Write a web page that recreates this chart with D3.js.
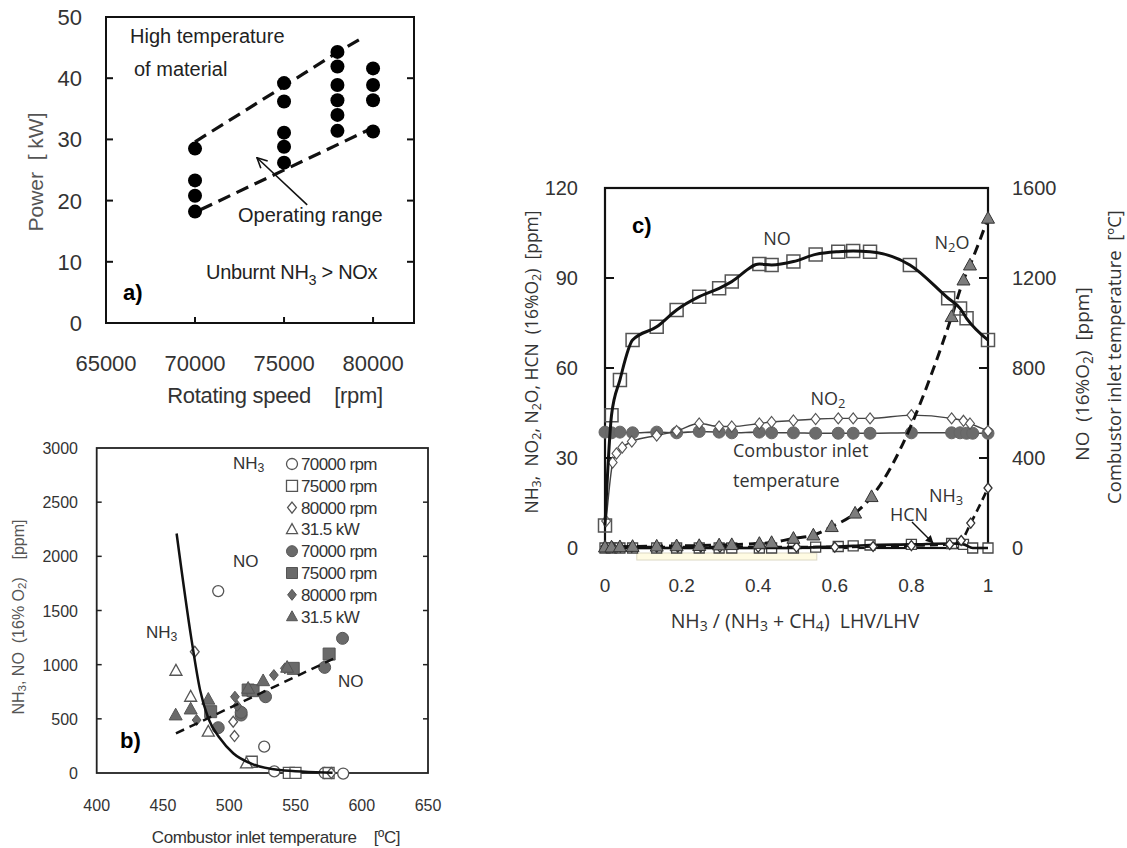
<!DOCTYPE html>
<html><head><meta charset="utf-8">
<script src="https://cdn.jsdelivr.net/npm/d3@7"></script>
<style>body{margin:0;background:#fff}svg{display:block}text{white-space:pre}</style>
</head><body><svg id="chart" width="1127" height="848"></svg>
<script>
// ---------------- Panel a data ----------------
const aSpeeds = [70000, 75000, 78000, 80000];
const aPowers = [[28.5, 23.3, 20.8, 18.2], [39.2, 36.2, 31.1, 28.8, 26.2], [44.3, 41.9, 38.9, 36.4, 34.0, 31.4], [41.6, 38.9, 36.4, 31.3]];
const aUpperRpm = [70000, 75000, 78000, 79400];
const aUpperKW = [29.6, 38.7, 44.2, 46.6];
const aLowerRpm = [70300, 80000];
const aLowerKW = [18.5, 31.9];
const aYTicks = [0, 10, 20, 30, 40, 50];
const aXTicks = [65000, 70000, 75000, 80000];

// ---------------- Panel b data ----------------
const bLegendLabels = ["70000 rpm", "75000 rpm", "80000 rpm", "31.5 kW", "70000 rpm", "75000 rpm", "80000 rpm", "31.5 kW"];
const bNH3_70 = [[491.7, 1679], [526.4, 243], [534, 15], [572, 0], [586, -5]];
const bNH3_75 = [[517, 104], [545, 2], [550, 2], [575, 0]];
const bNH3_80 = [[474, 1119], [503, 473], [504, 341], [577, 0]];
const bNH3_315 = [[459.8, 944], [470.9, 704], [484.2, 381], [513, 89]];
const bNO_70 = [[491.7, 418], [509, 535], [509, 560], [527.4, 704], [572, 975], [585.5, 1243]];
const bNO_75 = [[486, 566], [514.3, 766], [518, 760], [548.3, 966], [575.4, 1098]];
const bNO_80 = [[475.4, 489], [504.3, 704], [506, 620], [533.7, 904], [542, 966]];
const bNO_315 = [[459.6, 535], [470.9, 590], [484.2, 680], [514.3, 781], [525.6, 851], [543.7, 975]];
const bNH3CurveT = [460.3, 471.6, 478, 484.2, 493, 503, 518, 538, 578];
const bNH3CurveV = [2211, 1227, 766, 505, 320, 182, 80, 28, 3];
const bNOLineT = [459.8, 579.2];
const bNOLineV = [366, 1058];
const bYTicks = [0, 500, 1000, 1500, 2000, 2500, 3000];
const bXTicks = [400, 450, 500, 550, 600, 650];

// ---------------- Panel c data ----------------
const cNOx = [0, 0.017, 0.039, 0.072, 0.135, 0.187, 0.246, 0.298, 0.331, 0.403, 0.435, 0.492, 0.55, 0.609, 0.648, 0.692, 0.796, 0.896, 0.927, 0.944, 1.0];
const cNO = [100, 590, 747, 924, 983, 1058, 1117, 1154, 1184, 1262, 1258, 1273, 1305, 1317, 1320, 1317, 1258, 1110, 1065, 1021, 924];
const cN2Ox = [0, 0.017, 0.039, 0.072, 0.135, 0.187, 0.246, 0.298, 0.331, 0.403, 0.435, 0.492, 0.544, 0.592, 0.653, 0.696, 0.905, 0.936, 0.953, 1.0];
const cN2O = [0.3, 0.3, 0.4, 0.5, 0.6, 0.7, 0.8, 1.0, 1.1, 1.5, 1.8, 3.2, 4.3, 7.1, 11.6, 17.1, 77.1, 89.3, 94.3, 109.9];
const cNO2x = [0.003, 0.02, 0.03, 0.045, 0.07, 0.135, 0.187, 0.246, 0.298, 0.331, 0.403, 0.435, 0.492, 0.55, 0.609, 0.648, 0.692, 0.8, 0.905, 0.936, 0.953, 1.0];
const cNO2 = [9, 28.5, 31.5, 33.5, 35.5, 37.5, 39, 41.5, 40.5, 40.5, 41.5, 42, 42.5, 43, 43.2, 43.2, 43.2, 44.3, 43.2, 42.4, 41.5, 39];
const cTempx = [0, 0.017, 0.039, 0.072, 0.135, 0.187, 0.246, 0.298, 0.331, 0.403, 0.435, 0.492, 0.55, 0.609, 0.648, 0.692, 0.8, 0.905, 0.927, 0.944, 0.96, 1.0];
const cTemp = [515, 512, 515, 512, 515, 512, 518, 515, 512, 515, 512, 512, 510, 510, 510, 510, 512, 512, 512, 510, 510, 510];
const cNH3x = [0, 0.02, 0.04, 0.07, 0.135, 0.19, 0.25, 0.3, 0.4, 0.5, 0.6, 0.7, 0.8, 0.9, 0.93, 0.955, 1.0];
const cNH3 = [0.5, 0.3, 0.3, 0.3, 0.3, 0.3, 0.3, 0.3, 0.3, 0.3, 0.3, 0.5, 0.8, 1.2, 2.5, 8.3, 20];
const cHCNx = [0, 0.017, 0.039, 0.072, 0.135, 0.187, 0.246, 0.298, 0.331, 0.403, 0.435, 0.492, 0.55, 0.609, 0.648, 0.692, 0.8, 0.905, 0.936, 0.96, 1.0];
const cHCN = [0, 0, 0, 0, 0, 0, 0, 0, 0, 0, 0, 0, 0.3, 0.5, 0.7, 1, 1.2, 1.5, 1.2, 0, 0];
const cYLTicks = [0, 30, 60, 90, 120];
const cYRTicks = [0, 400, 800, 1200, 1600];
const cXTicks = [0, 0.2, 0.4, 0.6, 0.8, 1];
const cXTickLabels = ["0", "0.2", "0.4", "0.6", "0.8", "1"];

// ---------------- helpers ----------------
const svg = d3.select("#chart");
svg.append("rect").attr("width", 1127).attr("height", 848).attr("fill", "#fff");
const ARIAL = "'Liberation Sans', Arial, Helvetica, sans-serif";
const SANS2 = "'Open Sans', 'Noto Sans', sans-serif";

function rich(parent, x, y, str, o = {}) {
  const fs = o.size || 16;
  const t = parent.append("text").attr("x", x).attr("y", y)
    .attr("font-size", fs).attr("font-family", o.family || ARIAL)
    .attr("fill", o.fill || "#222").attr("text-anchor", o.anchor || "start")
    .attr("font-weight", o.weight || "normal").attr("xml:space", "preserve");
  if (o.baseline) t.attr("dominant-baseline", o.baseline);
  if (o.transform) t.attr("transform", o.transform);
  if (o.ls !== undefined) t.attr("letter-spacing", o.ls);
  const parts = str.split(/(_.)/);
  let sub = false;
  parts.forEach(p => {
    if (!p) return;
    if (p[0] === '_' && p.length === 2) {
      t.append("tspan").attr("dy", fs * 0.28).attr("font-size", fs * 0.72).text(p[1]);
      sub = true;
    } else {
      const ts = t.append("tspan").text(p);
      if (sub) { ts.attr("dy", -fs * 0.28); sub = false; }
    }
  });
  return t;
}
function symPath(type, r) {
  if (type === "circle") return d3.symbol(d3.symbolCircle, Math.PI * r * r)();
  if (type === "square") return `M${-r},${-r}h${2 * r}v${2 * r}h${-2 * r}Z`;
  if (type === "diamond") return `M0,${-r}L${r * 0.8},0L0,${r}L${-r * 0.8},0Z`;
  if (type === "triangle") return `M0,${-r * 1.05}L${r},${r * 0.75}L${-r},${r * 0.75}Z`;
}
const defs = svg.append("defs");
defs.append("marker").attr("id", "openArrow").attr("viewBox", "0 0 12 12").attr("refX", 11).attr("refY", 6)
  .attr("markerWidth", 12).attr("markerHeight", 12).attr("markerUnits", "userSpaceOnUse").attr("orient", "auto")
  .append("path").attr("d", "M1,1 L11,6 L1,11").attr("fill", "none").attr("stroke", "#111").attr("stroke-width", 1.6);
defs.append("marker").attr("id", "smallArrow").attr("viewBox", "0 0 10 10").attr("refX", 9).attr("refY", 5)
  .attr("markerWidth", 8).attr("markerHeight", 8).attr("markerUnits", "userSpaceOnUse").attr("orient", "auto")
  .append("path").attr("d", "M0,0 L10,5 L0,10 Z").attr("fill", "#111");

// ================= Panel a =================
{
  const g = svg.append("g");
  const x = d3.scaleLinear().domain([65000, 82300]).range([106, 414]);
  const y = d3.scaleLinear().domain([0, 50]).range([323, 17]);
  g.append("rect").attr("x", x.range()[0]).attr("y", y(50)).attr("width", x.range()[1] - x.range()[0])
    .attr("height", y(0) - y(50)).attr("fill", "none").attr("stroke", "#111").attr("stroke-width", 2);
  aYTicks.filter(v => v > 0 && v < 50).forEach(v => {
    g.append("line").attr("x1", x(65000)).attr("x2", x(65000) + 7).attr("y1", y(v)).attr("y2", y(v)).attr("stroke", "#111").attr("stroke-width", 2);
    g.append("line").attr("x1", x.range()[1]).attr("x2", x.range()[1] - 7).attr("y1", y(v)).attr("y2", y(v)).attr("stroke", "#111").attr("stroke-width", 2);
  });
  aXTicks.filter(v => v > 65000).forEach(v => {
    g.append("line").attr("x1", x(v)).attr("x2", x(v)).attr("y1", y(0)).attr("y2", y(0) - 6).attr("stroke", "#111").attr("stroke-width", 2);
  });
  aYTicks.forEach(v => rich(g, 82, y(v), String(v), { size: 22, anchor: "end", baseline: "central", fill: "#333" }));
  aXTicks.forEach(v => rich(g, x(v), 363, String(v), { size: 22, anchor: "middle", baseline: "central", fill: "#333" }));
  rich(g, 0, 0, "Power  [ kW]", { size: 21, anchor: "middle", baseline: "central", fill: "#555", transform: "translate(35,172) rotate(-90)" });
  rich(g, 275, 395, "Rotating speed    [rpm]", { size: 22, anchor: "middle", baseline: "central", fill: "#333", ls: -0.3 });
  const lineA = d3.line().x(d => x(d[0])).y(d => y(d[1])).curve(d3.curveMonotoneX);
  g.append("path").attr("d", lineA(aUpperRpm.map((r, i) => [r, aUpperKW[i]]))).attr("fill", "none")
    .attr("stroke", "#111").attr("stroke-width", 3.2).attr("stroke-dasharray", "13,7");
  g.append("path").attr("d", lineA(aLowerRpm.map((r, i) => [r, aLowerKW[i]]))).attr("fill", "none")
    .attr("stroke", "#111").attr("stroke-width", 3.2).attr("stroke-dasharray", "13,7");
  aSpeeds.forEach((s, i) => aPowers[i].forEach(p => {
    g.append("circle").attr("cx", x(s)).attr("cy", y(p)).attr("r", 7).attr("fill", "#000");
  }));
  rich(g, 130, 43, "High temperature", { size: 20, fill: "#222" });
  rich(g, 134, 76, "of material", { size: 20, fill: "#222" });
  rich(g, 238, 222, "Operating range", { size: 20, fill: "#222" });
  rich(g, 206, 279, "Unburnt NH_3 > NOx", { size: 20, fill: "#222", ls: -0.3 });
  rich(g, 123, 300, "a)", { size: 22, weight: "bold", fill: "#000" });
  g.append("line").attr("x1", x(76300)).attr("y1", y(19.3)).attr("x2", x(73480)).attr("y2", y(27.0))
    .attr("stroke", "#111").attr("stroke-width", 1.6).attr("marker-end", "url(#openArrow)");
}

// ================= Panel b =================
{
  const g = svg.append("g");
  const x = d3.scaleLinear().domain([400, 650]).range([96.7, 428]);
  const y = d3.scaleLinear().domain([0, 3000]).range([773, 448]);
  g.append("rect").attr("x", x(400)).attr("y", y(3000)).attr("width", x(650) - x(400)).attr("height", y(0) - y(3000))
    .attr("fill", "none").attr("stroke", "#222").attr("stroke-width", 1.8);
  bYTicks.filter(v => v > 0 && v < 3000).forEach(v => {
    g.append("line").attr("x1", x(650)).attr("x2", x(650) - 5).attr("y1", y(v)).attr("y2", y(v)).attr("stroke", "#222").attr("stroke-width", 1.5);
    g.append("line").attr("x1", x(400)).attr("x2", x(400) + 5).attr("y1", y(v)).attr("y2", y(v)).attr("stroke", "#222").attr("stroke-width", 1.5);
  });
  bYTicks.forEach(v => rich(g, 78, y(v), String(v), { size: 16, anchor: "end", baseline: "central", fill: "#333" }));
  bXTicks.forEach(v => rich(g, x(v), 805, String(v), { size: 16, anchor: "middle", baseline: "central", fill: "#333" }));
  rich(g, 276, 837, "Combustor inlet temperature    [ºC]", { size: 17, anchor: "middle", baseline: "central", fill: "#333", ls: -0.4 });
  rich(g, 0, 0, "NH_3, NO  (16% O_2)    [ppm]", { size: 16, anchor: "middle", baseline: "central", fill: "#555", transform: "translate(18,617) rotate(-90)" });

  const openSt = "#555", fillC = "#6a6a6a";
  const drawPts = (pts, type, r, filled) => pts.forEach(p => {
    g.append("path").attr("d", symPath(type, r)).attr("transform", `translate(${x(p[0])},${y(p[1])})`)
      .attr("fill", filled ? fillC : "#fff").attr("stroke", filled ? "#555" : openSt).attr("stroke-width", filled ? 1 : 1.3);
  });
  const lineB = d3.line().x(d => x(d[0])).y(d => y(d[1]));
  drawPts(bNH3_70, "circle", 5.5, false);
  drawPts(bNH3_75, "square", 5.5, false);
  drawPts(bNH3_80, "diamond", 5.5, false);
  drawPts(bNH3_315, "triangle", 6, false);
  drawPts(bNO_70, "circle", 6, true);
  drawPts(bNO_75, "square", 6, true);
  drawPts(bNO_80, "diamond", 5.5, true);
  drawPts(bNO_315, "triangle", 6.5, true);
  g.append("path").attr("d", lineB.curve(d3.curveMonotoneX)(bNH3CurveT.map((t, i) => [t, bNH3CurveV[i]])))
    .attr("fill", "none").attr("stroke", "#111").attr("stroke-width", 2.5);
  g.append("path").attr("d", d3.line().x(d => x(d[0])).y(d => y(d[1]))(bNOLineT.map((t, i) => [t, bNOLineV[i]])))
    .attr("fill", "none").attr("stroke", "#111").attr("stroke-width", 2.5).attr("stroke-dasharray", "9,6");
  const types = ["circle", "square", "diamond", "triangle"];
  bLegendLabels.forEach((lab, i) => {
    const cy = 464 + i * 21.8;
    const filled = i >= 4;
    g.append("path").attr("d", symPath(types[i % 4], 5.5)).attr("transform", `translate(292,${cy})`)
      .attr("fill", filled ? fillC : "#fff").attr("stroke", "#555").attr("stroke-width", filled ? 1 : 1.3);
    rich(g, 301, cy, lab, { size: 17, baseline: "central", fill: "#333", ls: -0.6 });
  });
  rich(g, 233, 463, "NH_3", { size: 17, baseline: "central", fill: "#333" });
  rich(g, 233, 561, "NO", { size: 17, baseline: "central", fill: "#333" });
  rich(g, 146, 632, "NH_3", { size: 17, baseline: "central", fill: "#333" });
  rich(g, 338, 681, "NO", { size: 17, baseline: "central", fill: "#333" });
  rich(g, 120, 740, "b)", { size: 22, weight: "bold", baseline: "central", fill: "#000" });
}

// ================= Panel c =================
{
  const g = svg.append("g");
  const x = d3.scaleLinear().domain([0, 1]).range([605, 988]);
  const yL = d3.scaleLinear().domain([0, 120]).range([548, 188]);
  const yR = d3.scaleLinear().domain([0, 1600]).range([548, 188]);
  g.append("rect").attr("x", x(0)).attr("y", yL(120)).attr("width", x(1) - x(0)).attr("height", yL(0) - yL(120))
    .attr("fill", "none").attr("stroke", "#111").attr("stroke-width", 2.2);
  g.append("rect").attr("x", x(0.083)).attr("y", 553).attr("width", x(0.553) - x(0.083)).attr("height", 7)
    .attr("fill", "#fffbe3").attr("stroke", "#dcd8c4").attr("stroke-width", 1);
  cYLTicks.filter(v => v > 0 && v < 120).forEach(v => g.append("line").attr("x1", x(0)).attr("x2", x(0) + 9)
    .attr("y1", yL(v)).attr("y2", yL(v)).attr("stroke", "#111").attr("stroke-width", 2));
  cYRTicks.filter(v => v > 0 && v < 1600).forEach(v => g.append("line").attr("x1", x(1)).attr("x2", x(1) - 9)
    .attr("y1", yR(v)).attr("y2", yR(v)).attr("stroke", "#111").attr("stroke-width", 2));
  cYLTicks.forEach(v => rich(g, 578, yL(v), String(v), { size: 20, anchor: "end", baseline: "central", fill: "#333" }));
  cYRTicks.forEach(v => rich(g, 1012, yR(v), String(v), { size: 20, baseline: "central", fill: "#333" }));
  cXTicks.forEach((v, i) => rich(g, x(v), 585, cXTickLabels[i], { size: 19, anchor: "middle", baseline: "central", fill: "#333" }));
  rich(g, 795, 620, "NH_3 / (NH_3 + CH_4)  LHV/LHV", { size: 19.5, anchor: "middle", baseline: "central", fill: "#333", family: SANS2 });
  rich(g, 0, 0, "NH_3,  NO_2, N_2O, HCN  (16%O_2)  [ppm]", { size: 17.5, anchor: "middle", baseline: "central", fill: "#333", family: SANS2, transform: "translate(531,362) rotate(-90)" });
  rich(g, 0, 0, "NO  (16%O_2)  [ppm]", { size: 19, anchor: "middle", baseline: "central", fill: "#333", family: SANS2, transform: "translate(1082,374) rotate(-90)" });
  rich(g, 0, 0, "Combustor inlet temperature  [ºC]", { size: 18.5, anchor: "middle", baseline: "central", fill: "#333", family: SANS2, transform: "translate(1113,357) rotate(-90)" });

  const mk = (xs, ys) => xs.map((v, i) => [v, ys[i]]);
  const lineL = d3.line().x(d => x(d[0])).y(d => yL(d[1])).curve(d3.curveMonotoneX);
  const lineR = d3.line().x(d => x(d[0])).y(d => yR(d[1])).curve(d3.curveMonotoneX);
  const pts = (data, sc, type, r, fill, stroke, sw) => data.forEach(p => g.append("path").attr("d", symPath(type, r))
    .attr("transform", `translate(${x(p[0])},${sc(p[1])})`).attr("fill", fill).attr("stroke", stroke).attr("stroke-width", sw));

  const tempD = mk(cTempx, cTemp);
  g.append("path").attr("d", lineR(tempD)).attr("fill", "none").attr("stroke", "#444").attr("stroke-width", 1.6);
  pts(tempD, yR, "circle", 6, "#6b6b6b", "#666", 1);
  const no2D = mk(cNO2x, cNO2);
  g.append("path").attr("d", lineL(no2D)).attr("fill", "none").attr("stroke", "#444").attr("stroke-width", 1.4);
  pts(no2D, yL, "diamond", 5.5, "#fff", "#555", 1.2);
  const hcnD = mk(cHCNx, cHCN);
  pts(hcnD, yL, "square", 5, "#fff", "#444", 1.3);
  g.append("path").attr("d", lineL(hcnD)).attr("fill", "none").attr("stroke", "#111").attr("stroke-width", 2.6);
  const nh3D = mk(cNH3x, cNH3);
  g.append("path").attr("d", lineL(nh3D)).attr("fill", "none").attr("stroke", "#111").attr("stroke-width", 2.6).attr("stroke-dasharray", "8,5");
  pts(nh3D, yL, "diamond", 5, "#fff", "#333", 1.3);
  const n2oD = mk(cN2Ox, cN2O);
  g.append("path").attr("d", lineL(n2oD)).attr("fill", "none").attr("stroke", "#111").attr("stroke-width", 3).attr("stroke-dasharray", "10,6");
  pts(n2oD, yL, "triangle", 6.5, "#7d7d7d", "#333", 1);
  const noD = mk(cNOx, cNO);
  pts(noD, yR, "square", 6.5, "none", "#555", 1.5);
  g.append("path").attr("d", lineR(noD)).attr("fill", "none").attr("stroke", "#111").attr("stroke-width", 3);

  rich(g, 777, 238, "NO", { size: 18, anchor: "middle", baseline: "central", fill: "#333", family: SANS2 });
  rich(g, 952, 242, "N_2O", { size: 18, anchor: "middle", baseline: "central", fill: "#333", family: SANS2 });
  rich(g, 828, 398, "NO_2", { size: 18, anchor: "middle", baseline: "central", fill: "#333", family: SANS2 });
  rich(g, 733, 450, "Combustor inlet", { size: 18, baseline: "central", fill: "#333", family: SANS2 });
  rich(g, 733, 480, "temperature", { size: 18, baseline: "central", fill: "#333", family: SANS2 });
  rich(g, 929, 495, "NH_3", { size: 18, baseline: "central", fill: "#333", family: SANS2 });
  rich(g, 890, 514, "HCN", { size: 18, baseline: "central", fill: "#333", family: SANS2 });
  g.append("line").attr("x1", 912).attr("y1", 522).attr("x2", 933).attr("y2", 543)
    .attr("stroke", "#111").attr("stroke-width", 1.4).attr("marker-end", "url(#smallArrow)");
  rich(g, 632, 225, "c)", { size: 22, weight: "bold", baseline: "central", fill: "#000" });
}
</script></body></html>
